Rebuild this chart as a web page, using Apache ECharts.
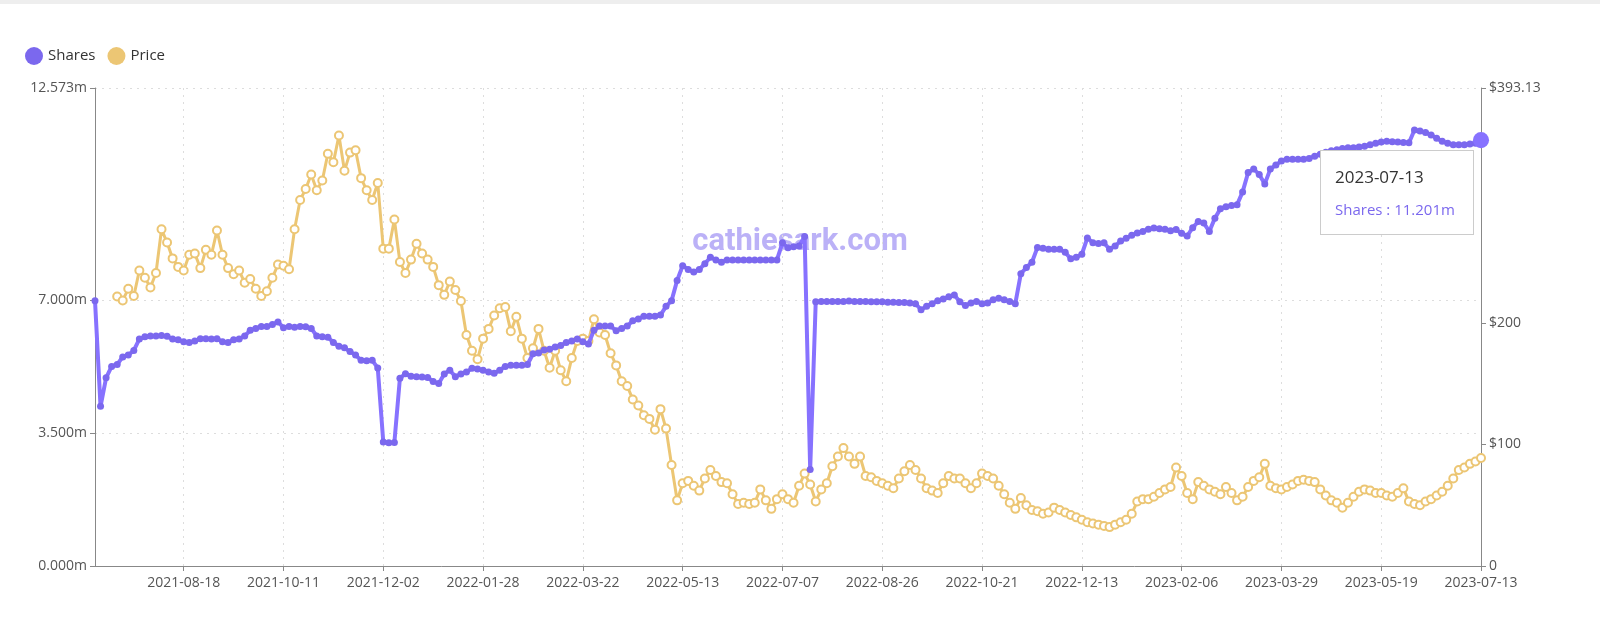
<!DOCTYPE html>
<html lang="en" style="height: 100%">
<head>
    <meta charset="UTF-8">
    <title>Shares / Price</title>
    <script src="https://cdn.jsdelivr.net/npm/echarts@6/dist/echarts.min.js"></script>
</head>
<body style="height: 100%; margin: 0; background: #fff">
<div style="position:absolute;left:0;top:0;width:1600px;height:4px;background:#eee"></div>
<div id="main" style="width: 1600px; height: 638px"></div>
<script>
    // US market holidays in the covered range
    var holidays = ['2021-07-05','2021-09-06','2021-11-25','2021-12-24','2022-01-17','2022-02-21','2022-04-15',
        '2022-05-30','2022-06-20','2022-07-04','2022-09-05','2022-11-24','2022-12-26','2023-01-02','2023-01-16',
        '2023-02-20','2023-04-07','2023-05-29','2023-06-19','2023-07-04'];
    // dates shown under the x axis, one every 18 points
    var tickLabels = ['2021-08-18','2021-10-11','2021-12-02','2022-01-28','2022-03-22','2022-05-13','2022-07-07',
        '2022-08-26','2022-10-21','2022-12-13','2023-02-06','2023-03-29','2023-05-19','2023-07-13'];
    var firstDate = '2021-07-01';

    var shares = [
        6.98,4.20,4.95,5.25,5.30,5.50,5.55,5.67,5.97,6.03,
        6.05,6.05,6.06,6.04,5.97,5.95,5.90,5.88,5.92,5.98,
        5.98,5.97,5.98,5.90,5.88,5.95,5.97,6.05,6.20,6.25,
        6.30,6.30,6.35,6.42,6.27,6.30,6.28,6.30,6.29,6.25,
        6.05,6.03,6.02,5.88,5.78,5.74,5.64,5.55,5.41,5.40,
        5.41,5.21,3.26,3.24,3.25,4.94,5.06,4.99,4.98,4.97,
        4.96,4.85,4.80,5.05,5.15,4.98,5.05,5.10,5.20,5.18,
        5.15,5.10,5.07,5.15,5.25,5.28,5.28,5.28,5.30,5.58,
        5.60,5.68,5.70,5.76,5.80,5.88,5.92,5.97,5.90,5.84,
        6.20,6.31,6.31,6.31,6.19,6.25,6.31,6.45,6.50,6.57,
        6.57,6.57,6.60,6.83,6.98,7.51,7.90,7.80,7.73,7.80,
        7.95,8.12,8.05,7.99,8.05,8.05,8.05,8.05,8.05,8.05,
        8.05,8.05,8.05,8.05,8.50,8.37,8.40,8.42,8.67,2.54,
        6.95,6.96,6.96,6.96,6.96,6.96,6.97,6.96,6.96,6.96,
        6.95,6.95,6.95,6.94,6.94,6.93,6.93,6.92,6.90,6.74,
        6.83,6.90,6.98,7.02,7.08,7.13,6.95,6.85,6.92,6.96,
        6.90,6.92,7.00,7.04,7.00,6.96,6.90,7.69,7.85,7.99,
        8.38,8.36,8.33,8.33,8.33,8.25,8.08,8.12,8.20,8.63,
        8.50,8.48,8.50,8.33,8.42,8.55,8.62,8.70,8.76,8.80,
        8.86,8.89,8.87,8.86,8.82,8.85,8.75,8.68,8.90,9.06,
        9.02,8.80,9.15,9.40,9.45,9.48,9.50,9.84,10.35,10.44,
        10.30,10.05,10.44,10.55,10.65,10.70,10.70,10.70,10.70,10.72,
        10.78,10.83,10.88,10.92,10.95,10.98,11.00,11.00,11.02,11.04,
        11.08,11.12,11.15,11.17,11.16,11.15,11.14,11.13,11.47,11.44,
        11.40,11.34,11.25,11.17,11.12,11.08,11.08,11.08,11.10,11.12,
        11.201
    ];
    var price = [
        null,null,null,null,221.6,218.4,228,222,243,237,
        229,241,277,266,253,246,243,256,257,245,
        260,256,276,256,245,240,243,233,236,228,
        222,226,237,248,247,244,277,301,310,322,
        309,317,339,332,354,325,340,342,319,309,
        301,315,261,261,285,250,241,252,265,257,
        252,246,231,223,234,227,218,190,177,170,
        187,195,206,212,213,193,205,187,171,179,
        195,177,163,177,161,152,171,185,187,185,
        203,192,190,175,165,152,148,137,132,124,
        121,112,129,113,83,54,68,70,66,62,
        72,79,74,69,68,59,51,52,51,52,
        63,54,47,55,59,55,52,66,76,67,
        53,63,68,82,90,97,90,84,90,74,
        73,70,68,66,64,72,78,83,79,72,
        64,62,60,68,74,72,72,68,64,68,
        76,74,72,66,59,52,47,56,50,46,
        45,43,44,48,46,44,42,40,38,36,
        35,34,33,32,34,36,38,43,53,55,
        55,57,60,63,65,81,74,60,55,69,
        66,63,61,59,65,60,54,57,65,70,
        73,84,66,64,63,65,67,70,71,70,
        69,63,58,54,52,48,52,57,61,63,
        62,60,60,58,57,60,64,53,51,50,
        53,55,58,61,66,72,79,81,84,86,
        88.8
    ];
    var leftTicks = [0, 3.5, 7, 12.573];
    var rightTicks = [0, 100, 200, 393.13];

    // trading days between two dates (exclusive of a, inclusive of b)
    function tradingDays(a, b) {
        var out = [], d = new Date(a + 'T00:00:00Z');
        while (true) {
            d.setUTCDate(d.getUTCDate() + 1);
            var s = d.toISOString().slice(0, 10);
            if (s > b) break;
            var wd = d.getUTCDay();
            if (wd !== 0 && wd !== 6 && holidays.indexOf(s) < 0) out.push(s);
        }
        return out;
    }
    function pick(list, n) {
        // n evenly spread entries, the last one being the list's last
        var out = [];
        for (var k = 1; k <= n; k++) out.push(list[Math.round(k * list.length / n) - 1]);
        return out;
    }
    var dates = [firstDate].concat(pick(tradingDays(firstDate, tickLabels[0]), 16));
    for (var t = 1; t < tickLabels.length; t++) {
        dates = dates.concat(pick(tradingDays(tickLabels[t - 1], tickLabels[t]), 18));
    }
    var pointCount = dates.length;

    var labelEvery = function (idx) { return (pointCount - 1 - idx) % 18 === 0; };

    var myChart = echarts.init(document.getElementById('main'));
    myChart.setOption({
        animation: false,
        textStyle: {fontFamily: 'Open Sans, Noto Sans, sans-serif'},
        legend: {
            left: 20, top: 42, icon: 'circle', itemWidth: 18, itemHeight: 18, itemGap: 12,
            textStyle: {fontSize: 15, color: '#333'},
            data: ['Shares', 'Price']
        },
        graphic: [{
            type: 'text', left: 'center', top: 227,
            style: {text: 'cathiesark.com', fontSize: 31, fontWeight: 'bold', fill: 'rgba(120,100,240,0.5)',
                fontFamily: 'Roboto, sans-serif'}
        }],
        tooltip: {
            trigger: 'item',
            position: function () { return [1320, 150]; },
            backgroundColor: '#fff', borderColor: '#ccc', borderWidth: 1, borderRadius: 0,
            padding: [14, 14], extraCssText: 'box-shadow:none;',
            formatter: function (p) {
                return '<div style="font-size:17px;color:#333;line-height:24px">' + p.name + '</div>' +
                    '<div style="font-size:15px;color:#7b68ee;margin-top:10px;margin-right:4px">' + p.seriesName + ' : ' +
                    p.value.toFixed(3) + 'm</div>';
            }
        },
        grid: {left: 95, right: 119, top: 88, bottom: 72},
        xAxis: {
            type: 'category', data: dates, boundaryGap: false,
            axisLine: {lineStyle: {color: '#888'}},
            axisTick: {interval: labelEvery, lineStyle: {color: '#888'}},
            axisLabel: {interval: labelEvery, color: '#555', fontSize: 14, margin: 10},
            splitLine: {show: true, interval: labelEvery, lineStyle: {type: [2, 5], color: '#ddd'}}
        },
        yAxis: [{
            type: 'value', min: 0, max: 12.573, position: 'left',
            axisLine: {show: true, lineStyle: {color: '#888'}},
            axisTick: {show: true, customValues: leftTicks},
            axisLabel: {customValues: leftTicks, color: '#555', fontSize: 14,
                formatter: function (v) { return v.toFixed(3) + 'm'; }},
            splitLine: {show: true, lineStyle: {type: [2, 5], color: '#ddd'}}
        }, {
            type: 'value', min: 0, max: 393.13, position: 'right',
            axisLine: {show: true, lineStyle: {color: '#888'}},
            axisTick: {show: true, customValues: rightTicks},
            axisLabel: {customValues: rightTicks, color: '#555', fontSize: 14,
                formatter: function (v) { return v === 0 ? '0' : '$' + v; }},
            splitLine: {show: false}
        }],
        series: [{
            name: 'Shares', type: 'line', data: shares, yAxisIndex: 0,
            color: '#7b68ee', symbol: 'circle', symbolSize: 7, showAllSymbol: true,
            lineStyle: {width: 4}, z: 3,
            emphasis: {scale: 2.3}
        }, {
            name: 'Price', type: 'line', data: price, yAxisIndex: 1,
            color: '#ecc674', symbol: 'emptyCircle', symbolSize: 8, showAllSymbol: true,
            itemStyle: {borderWidth: 2.5}, lineStyle: {width: 3}, z: 2
        }]
    });
    setTimeout(function () {
        myChart.dispatchAction({type: 'showTip', seriesIndex: 0, dataIndex: pointCount - 1});
        myChart.dispatchAction({type: 'highlight', seriesIndex: 0, dataIndex: pointCount - 1});
    }, 50);
</script>
</body>
</html>
